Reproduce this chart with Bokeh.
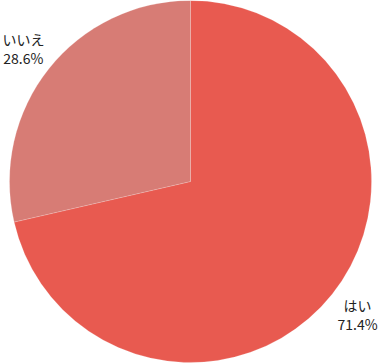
import numpy as np
from bokeh.plotting import figure
from bokeh.models import Range1d, ColumnDataSource
from bokeh.core.properties import value
from bokeh.embed import file_html
from bokeh.resources import INLINE

labels = ["はい", "いいえ"]
shares = [71.4, 28.6]
colors = ["#E85A50", "#D77C75"]

W, H = 380, 364
cx, cy, R = 190, 183, 181

frac = np.array(shares) / sum(shares)
cum_end = np.cumsum(frac)
cum_start = cum_end - frac
start_angle = np.pi / 2 - cum_end * 2 * np.pi
end_angle = np.pi / 2 - cum_start * 2 * np.pi
mid = (start_angle + end_angle) / 2

label_r = R * 1.18
src = ColumnDataSource(dict(
    start=start_angle, end=end_angle, color=colors,
    lx=cx + label_r * np.cos(mid), ly=cy + label_r * np.sin(mid),
    txt=[f"{l}\n{s:.1f}%" for l, s in zip(labels, shares)],
))

p = figure(width=W, height=H, x_range=Range1d(0, W), y_range=Range1d(0, H),
           output_backend="svg", toolbar_location=None, min_border=0)
p.axis.visible = False
p.grid.visible = False
p.outline_line_color = None
p.background_fill_color = "white"

p.wedge(x=cx, y=cy, radius=R, start_angle="start", end_angle="end",
        fill_color="color", line_color="#FFFFFF", line_alpha=0.3, line_width=0.6,
        source=src)
p.text(x="lx", y="ly", text="txt", source=src, text_align="center",
       text_baseline="middle", text_font=value("Noto Sans CJK JP"),
       text_font_size="14px", text_color="#222222", text_line_height=0.98)

open("out.html", "w").write(file_html(p, INLINE))
